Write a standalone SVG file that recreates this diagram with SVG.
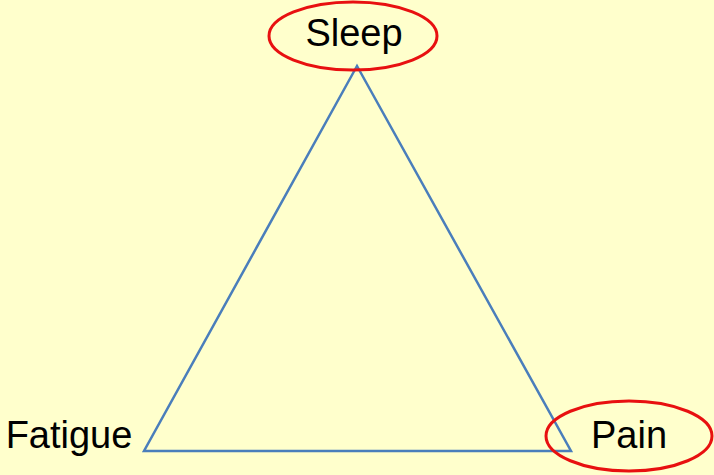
<svg xmlns="http://www.w3.org/2000/svg" width="714" height="475" viewBox="0 0 714 475">
<style>
.lbl{font-family:"Liberation Sans","Open Sans",sans-serif;font-size:38px;fill:#000}
.ring{fill:none;stroke:#e81010;stroke-width:3}
.edge{fill:none;stroke:#4a7ebb;stroke-width:2.5}
</style>
<rect width="714" height="475" fill="#ffffcc"/>
<g id="connectors">
<polygon class="edge" points="357,66 144,451 571,451"/>
</g>
<g id="sleep">
<ellipse class="ring" cx="353" cy="36" rx="84" ry="34"/>
<text class="lbl" x="354" y="46" text-anchor="middle">Sleep</text>
</g>
<g id="fatigue">
<text class="lbl" x="69" y="448" text-anchor="middle">Fatigue</text>
</g>
<g id="pain">
<ellipse class="ring" cx="629" cy="436" rx="83" ry="35"/>
<text class="lbl" x="629" y="448" text-anchor="middle">Pain</text>
</g>
</svg>
